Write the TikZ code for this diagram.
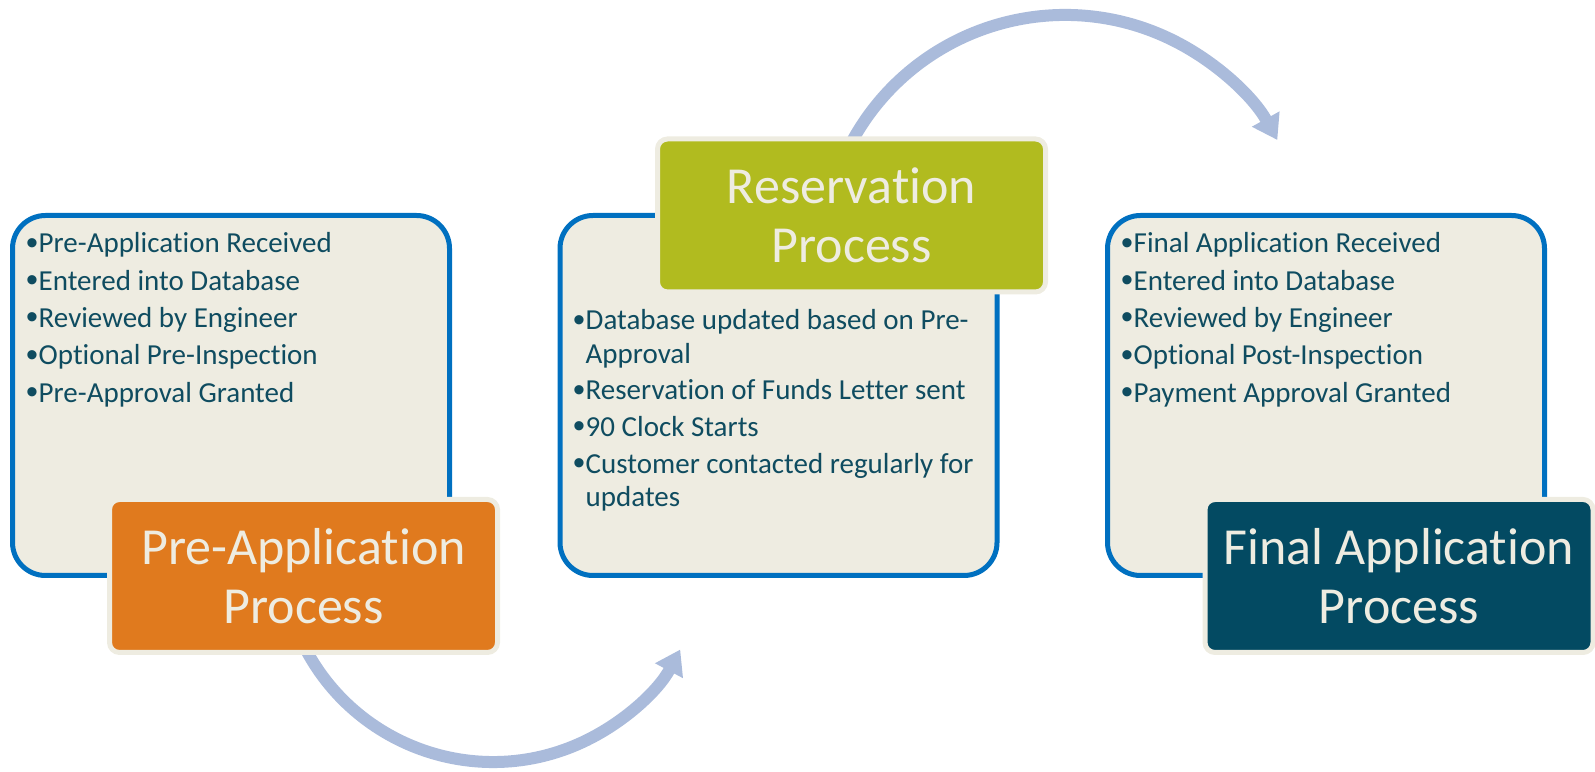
\documentclass[tikz,border=0pt]{standalone}
\usepackage{fontspec}
\setmainfont{Carlito}[Ligatures=NoCommon]
\newfontfamily\bulfont{Liberation Sans}
\usetikzlibrary{arrows.meta}
\definecolor{boxfill}{RGB}{238,236,225}
\definecolor{boxline}{RGB}{0,112,192}
\definecolor{txt}{RGB}{15,76,96}
\definecolor{orangeh}{RGB}{224,122,30}
\definecolor{greenh}{RGB}{177,187,31}
\definecolor{tealh}{RGB}{3,74,98}
\definecolor{arrowc}{RGB}{170,187,219}
\newcommand\bul{\makebox[12.5pt][l]{\raisebox{-1.2pt}{\bulfont\fontsize{34}{34}\selectfont •}}}
\begin{document}
\begin{tikzpicture}[x=1pt,y=1pt,
  listbox/.style={draw=boxline, line width=5pt, fill=boxfill, rounded corners=33pt,
    minimum width=437pt, minimum height=360pt, inner sep=0pt, outer sep=0pt},
  headbox/.style={draw=boxfill, line width=5pt, rounded corners=10pt,
    minimum width=388pt, minimum height=153pt, inner sep=0pt, outer sep=0pt,
    text=boxfill, align=center, font=\fontsize{52}{59}\selectfont},
  item/.style={anchor=base west, inner sep=0pt, text=txt, font=\fontsize{29}{34}\selectfont},
  flow/.style={draw=arrowc, line width=12pt, -{Triangle[length=24pt,width=30pt]}}
]
\useasboundingbox (0,0) rectangle (1595,771);

% flow arrows (behind boxes)
\coordinate (a1s) at (300.9,131.4);
\coordinate (a2s) at (848.8,623.5);
\draw[flow] (a1s) arc[start angle=-155, end angle=-28, radius=212];
\draw[flow] (a2s) arc[start angle=153, end angle=29, radius=242.7];

% list boxes
\node[listbox] (preList) at (231,375.5) {};
\node[listbox] (resList) at (778.5,375.5) {};
\node[listbox] (finList) at (1326,375.5) {};

% left items
\node[item] (p1) at (26,518) {\bul Pre-Application Received};
\node[item] (p2) at (26,480.7) {\bul Entered into Database};
\node[item] (p3) at (26,443.4) {\bul Reviewed by Engineer};
\node[item] (p4) at (26,406.1) {\bul Optional Pre-Inspection};
\node[item] (p5) at (26,368.8) {\bul Pre-Approval Granted};

% middle items
\node[item] (r1) at (573,441) {\bul Database updated based on Pre-};
\node[item] (r1b) at (585.5,407.7) {Approval};
\node[item] (r2) at (573,371) {\bul Reservation of Funds Letter sent};
\node[item] (r3) at (573,334.3) {\bul 90 Clock Starts};
\node[item] (r4) at (573,297.7) {\bul Customer contacted regularly for};
\node[item] (r4b) at (585.5,264.3) {updates};

% right items
\node[item] (f1) at (1121,518) {\bul Final Application Received};
\node[item] (f2) at (1121,480.7) {\bul Entered into Database};
\node[item] (f3) at (1121,443.4) {\bul Reviewed by Engineer};
\node[item] (f4) at (1121,406.1) {\bul Optional Post-Inspection};
\node[item] (f5) at (1121,368.8) {\bul Payment Approval Granted};

% heading boxes
\node[headbox, fill=orangeh] (preHead) at (303.5,195) {Pre-Application\\Process};
\node[headbox, fill=greenh] (resHead) at (851.5,555.5) {Reservation\\Process};
\node[headbox, fill=tealh] (finHead) at (1399,195) {Final Application\\Process};
\end{tikzpicture}
\end{document}
